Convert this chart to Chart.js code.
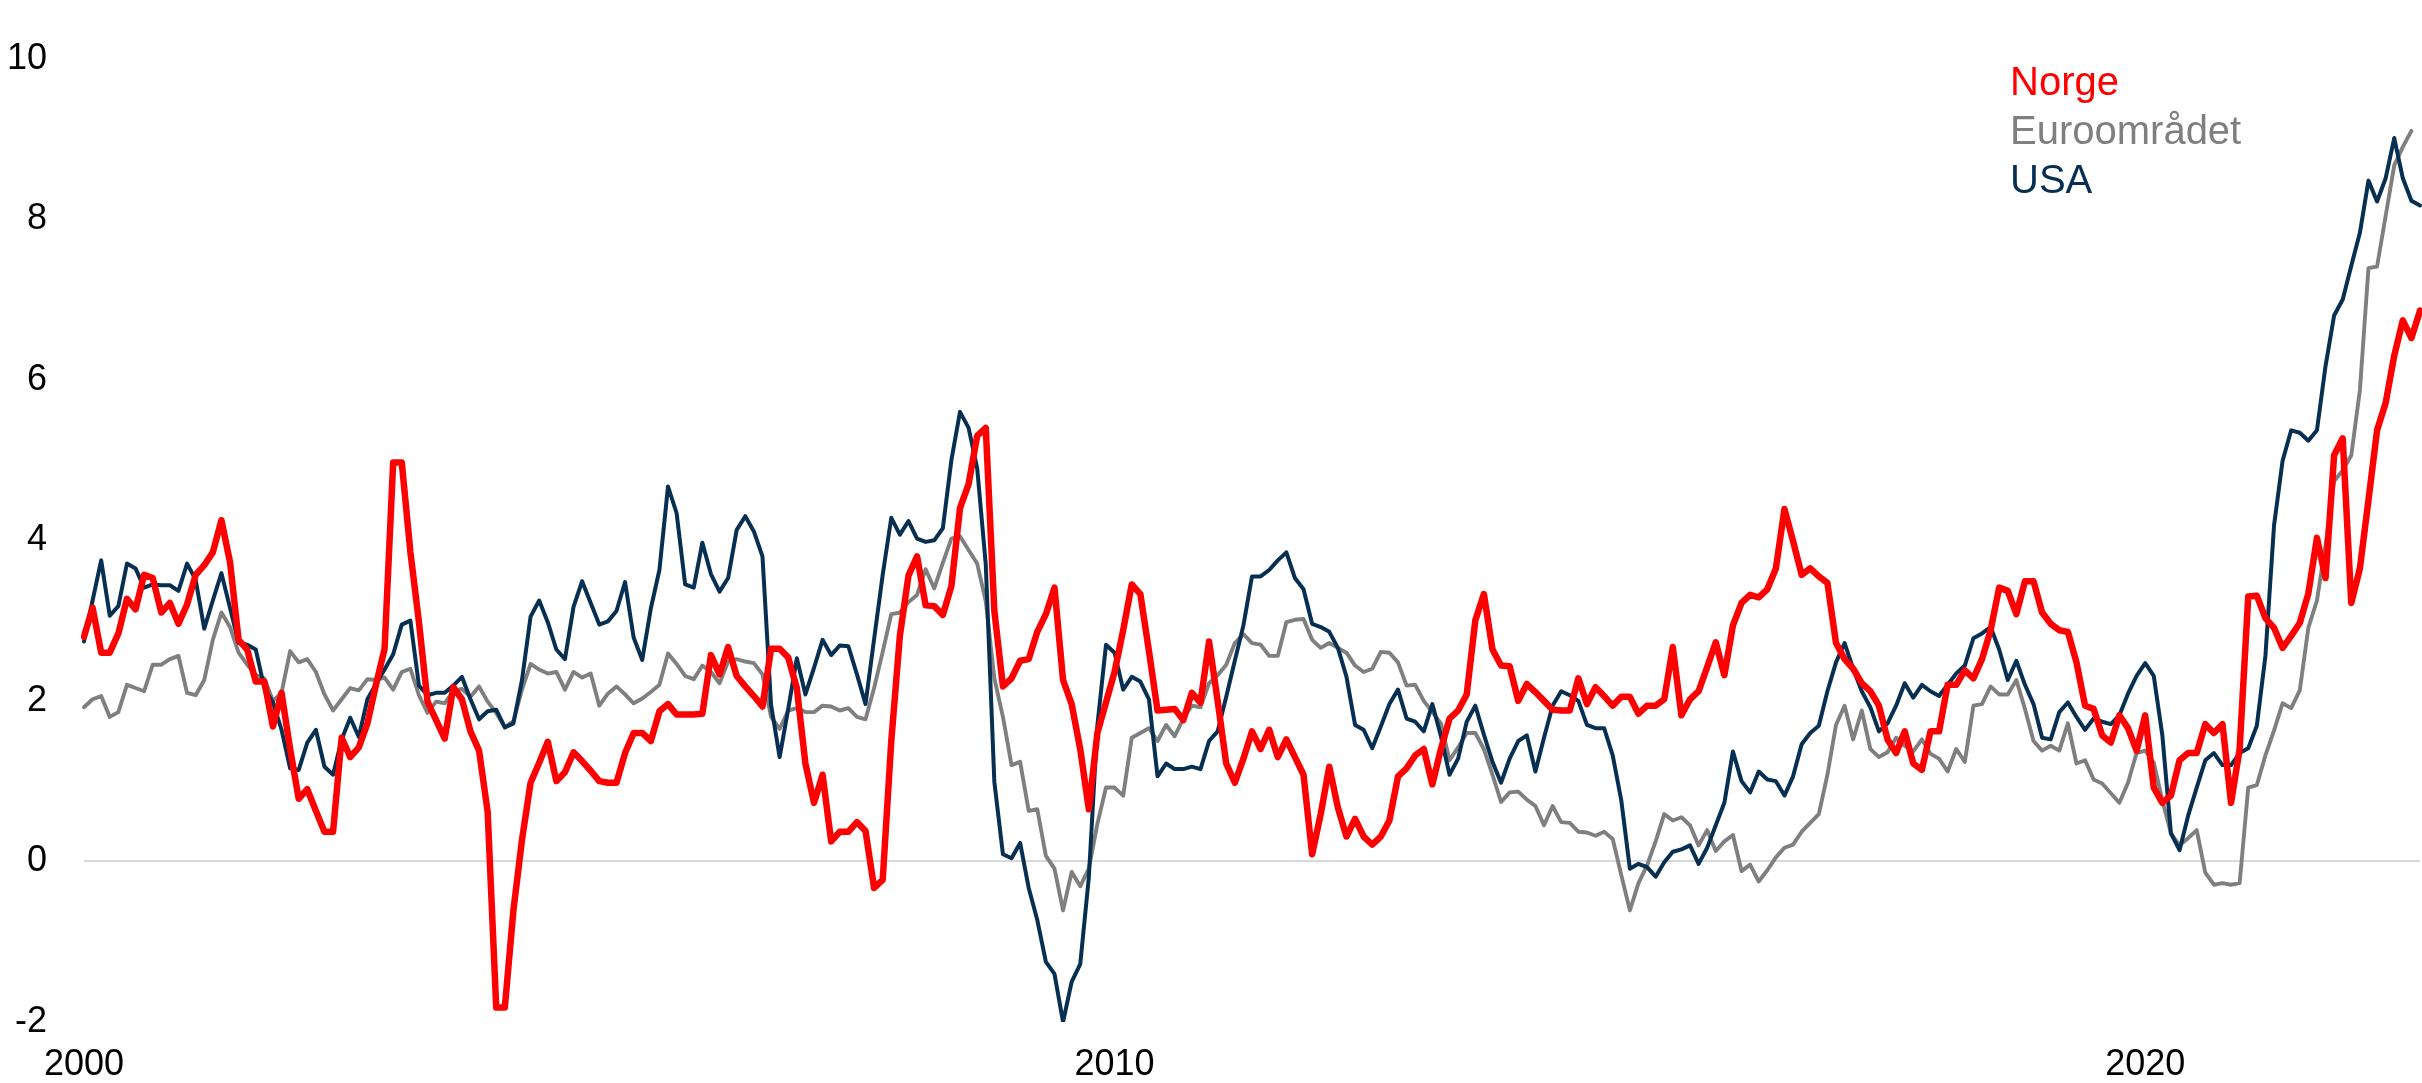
<!DOCTYPE html>
<html>
<head>
<meta charset="utf-8">
<script src="https://cdn.jsdelivr.net/npm/chart.js@4.4.1/dist/chart.umd.min.js"></script>
<style>
  html, body { margin: 0; padding: 0; background: #fff; }
  #wrap { position: relative; width: 2422px; height: 1083px; }
  #legend { position: absolute; left: 2010px; top: 57px; font-family: "Liberation Sans", Arial, sans-serif; font-size: 40px; line-height: 49px; }
</style>
</head>
<body>
<div id="wrap">
  <canvas id="inflChart" width="2422" height="1083"></canvas>
  <div id="legend"></div>
</div>
<script>
// monthly, Jan 2000 - Sep 2022
const startYear = 2000;
const monthCount = 273;
const tickYears = ["2000", "2010", "2020"];
const yTicks = [-2, 0, 2, 4, 6, 8, 10];

const norge = [
  2.8, 3.16, 2.6, 2.6, 2.84, 3.27, 3.14, 3.57, 3.53, 3.1, 3.22, 2.96,
  3.2, 3.57, 3.69, 3.85, 4.25, 3.73, 2.76, 2.64, 2.24, 2.24, 1.68, 2.1,
  1.4, 0.78, 0.9, 0.63, 0.37, 0.37, 1.54, 1.3, 1.42, 1.72, 2.2, 2.65,
  4.97, 4.97, 3.86, 2.98, 1.99, 1.76, 1.53, 2.17, 2.02, 1.62, 1.38, 0.62,
  -1.82, -1.82, -0.61, 0.27, 0.98, 1.23, 1.49, 1.0, 1.11, 1.36, 1.25, 1.13,
  1.0, 0.98, 0.98, 1.35, 1.6, 1.6, 1.5, 1.87, 1.96, 1.83, 1.83, 1.83,
  1.84, 2.57, 2.33, 2.67, 2.31, 2.18, 2.06, 1.93, 2.65, 2.65, 2.54, 2.16,
  1.22, 0.73, 1.08, 0.25, 0.37, 0.37, 0.49, 0.38, -0.33, -0.23, 1.5, 2.81,
  3.56, 3.8, 3.19, 3.18, 3.07, 3.43, 4.4, 4.7, 5.3, 5.4, 3.12, 2.18,
  2.28, 2.5, 2.52, 2.86, 3.08, 3.41, 2.26, 1.96, 1.4, 0.65, 1.6, 1.98,
  2.36, 2.88, 3.45, 3.33, 2.62, 1.88, 1.89, 1.9, 1.76, 2.1, 1.98, 2.74,
  2.0, 1.22, 0.98, 1.28, 1.62, 1.4, 1.64, 1.3, 1.52, 1.3, 1.08, 0.09,
  0.59, 1.18, 0.67, 0.31, 0.53, 0.31, 0.21, 0.31, 0.51, 1.06, 1.16, 1.32,
  1.4, 0.96, 1.4, 1.78, 1.88, 2.08, 3.0, 3.33, 2.64, 2.44, 2.43, 2.0,
  2.21, 2.11, 2.0, 1.89, 1.88, 1.88, 2.28, 1.96, 2.17, 2.06, 1.94, 2.05,
  2.05, 1.84, 1.94, 1.94, 2.02, 2.67, 1.82, 2.02, 2.12, 2.42, 2.73, 2.32,
  2.94, 3.22, 3.32, 3.29, 3.39, 3.65, 4.39, 3.99, 3.57, 3.65, 3.55, 3.47,
  2.72, 2.52, 2.4, 2.22, 2.12, 1.94, 1.52, 1.35, 1.62, 1.22, 1.14, 1.62,
  1.62, 2.2, 2.2, 2.38, 2.28, 2.52, 2.88, 3.41, 3.37, 3.08, 3.49, 3.49,
  3.1, 2.96, 2.88, 2.86, 2.48, 1.94, 1.9, 1.57, 1.48, 1.82, 1.66, 1.38,
  1.82, 0.92, 0.73, 0.82, 1.26, 1.35, 1.35, 1.71, 1.6, 1.71, 0.73, 1.4,
  3.3, 3.31, 3.03, 2.91, 2.66, 2.81, 2.97, 3.34, 4.03, 3.53, 5.06, 5.27,
  3.22, 3.65, 4.5, 5.37, 5.71, 6.3, 6.74, 6.52, 6.86
];

const euro = [
  1.92, 2.02, 2.06, 1.8, 1.86, 2.2, 2.16, 2.12, 2.45, 2.45, 2.52, 2.56,
  2.1, 2.07, 2.26, 2.76, 3.1, 2.92, 2.6, 2.45, 2.32, 2.28, 2.0, 2.1,
  2.62, 2.48, 2.52, 2.36, 2.08, 1.88, 2.02, 2.16, 2.13, 2.27, 2.26, 2.29,
  2.14, 2.36, 2.4, 2.07, 1.85, 1.99, 1.97, 2.12, 2.15, 2.05, 2.18, 1.99,
  1.85, 1.67, 1.75, 2.14, 2.46, 2.39, 2.34, 2.36, 2.14, 2.36, 2.29, 2.34,
  1.94, 2.09, 2.18, 2.08, 1.97, 2.03, 2.11, 2.2, 2.59, 2.46, 2.31, 2.27,
  2.44, 2.36, 2.22, 2.49, 2.52, 2.49, 2.47, 2.33, 1.8, 1.65, 1.88, 1.91,
  1.86, 1.86, 1.94, 1.93, 1.88, 1.91, 1.8, 1.77, 2.16, 2.61, 3.08, 3.1,
  3.23, 3.32, 3.64, 3.4, 3.72, 4.02, 4.05, 3.88, 3.71, 3.24, 2.28, 1.8,
  1.2, 1.24, 0.63, 0.65, 0.07, -0.09, -0.61, -0.13, -0.31, -0.09, 0.47, 0.92,
  0.92, 0.82, 1.54, 1.6, 1.66, 1.5, 1.7, 1.56, 1.78, 1.94, 1.92, 2.22,
  2.32, 2.45, 2.72, 2.83, 2.72, 2.7, 2.56, 2.56, 2.98, 3.01, 3.02, 2.76,
  2.66, 2.72, 2.66, 2.6, 2.44, 2.36, 2.4, 2.61, 2.6, 2.48, 2.19, 2.2,
  2.0, 1.86, 1.72, 1.26, 1.42, 1.6, 1.6, 1.4, 1.08, 0.74, 0.86, 0.87,
  0.77, 0.69, 0.45, 0.69, 0.49, 0.48, 0.37, 0.36, 0.32, 0.37, 0.28, -0.17,
  -0.61, -0.27, -0.05, 0.25, 0.59, 0.51, 0.55, 0.45, 0.2, 0.39, 0.13, 0.25,
  0.33, -0.12, -0.04, -0.25, -0.11, 0.05, 0.17, 0.21, 0.37, 0.48, 0.59, 1.08,
  1.7, 1.94, 1.52, 1.88, 1.4, 1.3, 1.36, 1.54, 1.44, 1.37, 1.52, 1.34,
  1.28, 1.12, 1.4, 1.24, 1.94, 1.96, 2.18, 2.08, 2.08, 2.26, 1.9, 1.5,
  1.38, 1.44, 1.38, 1.72, 1.22, 1.26, 1.02, 0.97, 0.85, 0.73, 0.98, 1.35,
  1.38, 1.23, 0.76, 0.35, 0.2, 0.29, 0.39, -0.14, -0.29, -0.27, -0.29, -0.27,
  0.92, 0.95, 1.32, 1.63, 1.97, 1.91, 2.13, 2.91, 3.25, 3.94, 4.74, 4.87,
  5.06, 5.87, 7.39, 7.41, 8.04, 8.67, 8.9, 9.1
];

const usa = [
  2.74, 3.25, 3.75, 3.06, 3.18, 3.71, 3.65, 3.41, 3.45, 3.44, 3.44, 3.37,
  3.71, 3.51, 2.9, 3.25, 3.59, 3.16, 2.72, 2.7, 2.64, 2.16, 1.98, 1.64,
  1.16, 1.14, 1.48, 1.64, 1.18, 1.08, 1.52, 1.79, 1.55, 2.02, 2.21, 2.39,
  2.58, 2.95, 3.0, 2.19, 2.07, 2.1, 2.1, 2.19, 2.3, 2.02, 1.77, 1.87,
  1.89, 1.67, 1.72, 2.26, 3.05, 3.25, 2.98, 2.64, 2.52, 3.17, 3.49, 3.22,
  2.95, 2.99, 3.12, 3.48, 2.79, 2.51, 3.15, 3.63, 4.67, 4.34, 3.45, 3.41,
  3.97, 3.58, 3.36, 3.53, 4.13, 4.3, 4.11, 3.8, 1.95, 1.3, 1.9, 2.53,
  2.08, 2.41, 2.76, 2.57, 2.69, 2.68, 2.33, 1.96, 2.77, 3.57, 4.28, 4.07,
  4.24, 4.02, 3.98, 4.0, 4.15, 5.0, 5.6, 5.4, 4.9, 3.7, 0.99, 0.09,
  0.04, 0.23, -0.33, -0.73, -1.25, -1.4, -2.0, -1.5, -1.28, -0.2, 1.7, 2.7,
  2.6, 2.14, 2.3, 2.24, 2.02, 1.06, 1.22, 1.15, 1.15, 1.18, 1.15, 1.5,
  1.62, 2.05, 2.5, 2.94, 3.55, 3.55, 3.63, 3.75, 3.85, 3.53, 3.39, 2.96,
  2.92, 2.86, 2.66, 2.3, 1.7, 1.64, 1.41, 1.68, 1.96, 2.14, 1.78, 1.74,
  1.62, 1.96, 1.56, 1.08, 1.28, 1.74, 1.94, 1.58, 1.24, 0.98, 1.28, 1.5,
  1.57, 1.12, 1.54, 1.94, 2.12, 2.07, 2.0, 1.7, 1.66, 1.66, 1.32, 0.76,
  -0.09, -0.03, -0.07, -0.19, -0.01, 0.12, 0.15, 0.2, -0.03, 0.17, 0.45, 0.73,
  1.37, 1.0, 0.86, 1.12, 1.02, 1.0, 0.82, 1.06, 1.46, 1.6, 1.69, 2.12,
  2.48, 2.72, 2.4, 2.12, 1.92, 1.62, 1.72, 1.94, 2.22, 2.04, 2.2, 2.12,
  2.06, 2.2, 2.34, 2.44, 2.78, 2.84, 2.92, 2.64, 2.26, 2.5, 2.2, 1.96,
  1.54, 1.52, 1.86, 1.98, 1.8, 1.64, 1.78, 1.74, 1.71, 1.82, 2.09, 2.31,
  2.47, 2.31, 1.57, 0.35, 0.14, 0.57, 0.92, 1.26, 1.35, 1.2, 1.2, 1.35,
  1.41, 1.69, 2.56, 4.18, 4.99, 5.37, 5.34, 5.24, 5.37, 6.17, 6.8, 7.0,
  7.42, 7.83, 8.48, 8.22, 8.51, 9.01, 8.51, 8.23, 8.17
];

const labels = [];
for (let i = 0; i < monthCount; i++) {
  const y = startYear + Math.floor(i / 12);
  const m = (i % 12) + 1;
  labels.push(y + "-" + (m < 10 ? "0" + m : m));
}

const series = [
  { label: "Norge", data: norge, color: "#ff0000", width: 6.5, order: 0 },
  { label: "Euroområdet", data: euro, color: "#7f7f7f", width: 3.9, order: 2 },
  { label: "USA", data: usa, color: "#062f52", width: 4, order: 1 }
];

const ctx = document.getElementById("inflChart").getContext("2d");

const chart = new Chart(ctx, {
  type: "line",
  data: {
    labels: labels,
    datasets: series.map(function (s) {
      return {
        label: s.label,
        data: s.data,
        borderColor: s.color,
        backgroundColor: s.color,
        borderWidth: s.width,
        pointRadius: 0,
        tension: 0,
        borderJoinStyle: "round",
        borderCapStyle: "round",
        order: s.order,
        fill: false
      };
    })
  },
  options: {
    responsive: false,
    animation: false,
    events: [],
    layout: { padding: { left: 0, right: 2, top: 26, bottom: 0 } },
    plugins: {
      legend: { display: false },
      tooltip: { enabled: false }
    },
    scales: {
      x: {
        type: "category",
        offset: false,
        grid: { display: false, drawTicks: false },
        border: { display: false },
        afterFit: function (scale) { scale.height = 61; },
        ticks: {
          autoSkip: false,
          maxRotation: 0,
          minRotation: 0,
          padding: 21,
          color: "#000",
          font: { family: "'Liberation Sans', Arial, sans-serif", size: 36 },
          callback: function (value, index) {
            const yr = labels[index].slice(0, 4);
            return (index % 12 === 0 && tickYears.indexOf(yr) !== -1) ? yr : null;
          }
        }
      },
      y: {
        min: -2,
        max: 10,
        afterFit: function (scale) { scale.width = 84; },
        afterBuildTicks: function (scale) {
          scale.ticks = yTicks.map(function (v) { return { value: v }; });
        },
        grid: {
          drawTicks: false,
          lineWidth: 2,
          color: function (c) { return c.tick && c.tick.value === 0 ? "#d9d9d9" : "rgba(0,0,0,0)"; }
        },
        border: { display: false },
        ticks: {
          padding: 37,
          color: "#000",
          font: { family: "'Liberation Sans', Arial, sans-serif", size: 36 },
          callback: function (value) { return String(value); }
        }
      }
    }
  }
});

// legend as plain text, coloured like the lines
const legendEl = document.getElementById("legend");
series.forEach(function (s) {
  const row = document.createElement("div");
  row.textContent = s.label;
  row.style.color = s.color;
  legendEl.appendChild(row);
});
</script>
</body>
</html>
